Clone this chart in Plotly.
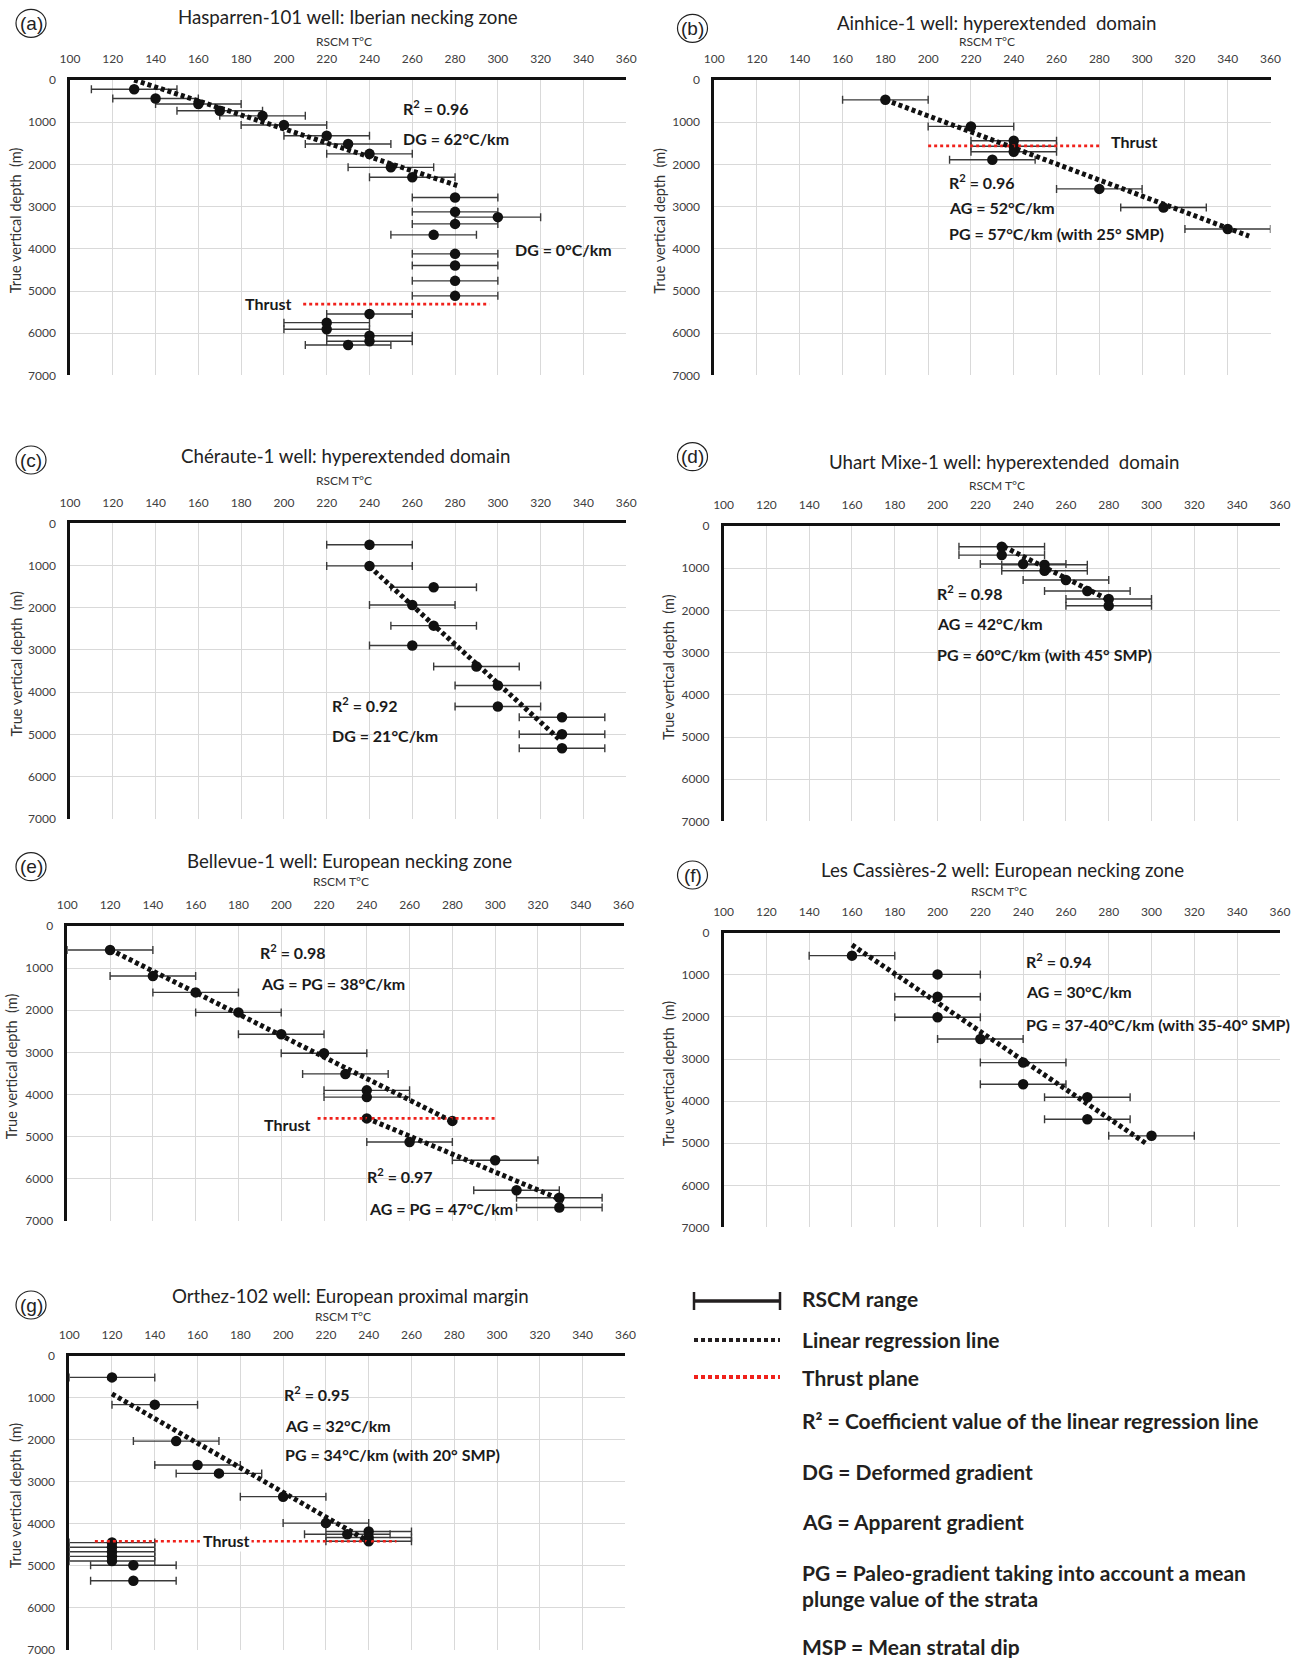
import plotly.graph_objects as go

W, H = 1300, 1658

# ---------------- data (RSCM temperature °C, true vertical depth m) ----------------
# (a) Hasparren-101
a_temp = [130, 140, 160, 170, 190, 200, 220, 230, 240, 250, 260, 280, 280, 300, 280, 270, 280, 280, 280, 280,
          240, 220, 220, 240, 240, 230]
a_depth = [220, 440, 570, 730, 850, 1065, 1320, 1515, 1750, 2070, 2305, 2785, 3125, 3250, 3410, 3670, 4120, 4395,
           4760, 5115, 5545, 5750, 5905, 6060, 6190, 6280]
a_err = [20] * 26
a_reg_temp = [130, 281]
a_reg_depth = [0, 2500]
a_thrust_temp = [209, 296]
a_thrust_depth = [5310, 5310]

# (b) Ainhice-1
b_temp = [180, 220, 240, 240, 240, 230, 280, 310, 340]
b_depth = [470, 1100, 1440, 1570, 1700, 1890, 2580, 3020, 3530]
b_err = [20] * 9
b_reg_temp = [180, 350]
b_reg_depth = [470, 3700]
b_thrust_temp = [200, 280]
b_thrust_depth = [1560, 1560]

# (c) Chéraute-1
c_temp = [240, 240, 270, 260, 270, 260, 290, 300, 300, 330, 330, 330]
c_depth = [510, 1010, 1515, 1935, 2425, 2895, 3395, 3845, 4340, 4595, 5000, 5330]
c_err = [20] * 12
c_reg_temp = [240, 329]
c_reg_depth = [1025, 5130]

# (d) Uhart Mixe-1
d_temp = [230, 230, 240, 250, 250, 260, 270, 280, 280]
d_depth = [490, 690, 900, 920, 1060, 1280, 1540, 1730, 1890]
d_err = [20] * 9
d_reg_temp = [231, 280]
d_reg_depth = [490, 1750]

# (e) Bellevue-1
e_temp = [120, 140, 160, 180, 200, 220, 230, 240, 240, 280, 240, 260, 300, 310, 330, 330]
e_depth = [570, 1185, 1575, 2050, 2570, 3020, 3510, 3900, 4060, 4625, 4565, 5125, 5560, 6270, 6450, 6680]
e_err = [20, 20, 20, 20, 20, 20, 20, 20, 20, 0, 0, 20, 20, 20, 20, 20]
e_reg1_temp = [120, 280]
e_reg1_depth = [560, 4640]
e_reg2_temp = [240, 332]
e_reg2_depth = [4560, 6520]
e_thrust_temp = [217, 301]
e_thrust_depth = [4565, 4565]

# (f) Les Cassières-2
f_temp = [160, 200, 200, 200, 220, 240, 240, 270, 270, 300]
f_depth = [545, 990, 1520, 2010, 2525, 3085, 3600, 3910, 4430, 4825]
f_err = [20] * 10
f_reg_temp = [160, 298]
f_reg_depth = [290, 5025]

# (g) Orthez-102
g_temp = [120, 140, 150, 160, 170, 200, 220, 230, 240, 240, 240, 120, 120, 120, 120, 120, 130, 130]
g_depth = [510, 1160, 2030, 2600, 2800, 3355, 3985, 4250, 4185, 4330, 4420, 4450, 4560, 4670, 4780, 4890,
           4990, 5360]
g_err = [20] * 18
g_reg_temp = [120, 241]
g_reg_depth = [905, 4455]
g_thrust_temp = [112, 253]
g_thrust_depth = [4420, 4420]

x_ticks = list(range(100, 361, 20))
y_ticks = list(range(0, 7001, 1000))

titles = {
    'a': "Hasparren-101 well: Iberian necking zone",
    'b': "Ainhice-1 well: hyperextended  domain",
    'c': "Chéraute-1 well: hyperextended domain",
    'd': "Uhart Mixe-1 well: hyperextended  domain",
    'e': "Bellevue-1 well: European necking zone",
    'f': "Les Cassières-2 well: European necking zone",
    'g': "Orthez-102 well: European proximal margin",
}

# ---------------- layout geometry (pixels) ----------------
panels = [
    dict(key='a', box=(70, 626.2, 80, 375.4), title=(348, 17.3), rscm=(344, 41.7), lab=(31, 23.3), ytit=15.6,
         temp=a_temp, depth=a_depth, err=a_err,
         regs=[(a_reg_temp, a_reg_depth)], thrusts=[(a_thrust_temp, a_thrust_depth)],
         notes=[("R<sup>2</sup> = 0.96", 254.5, 650, 'left'), ("DG = 62°C/km", 254.5, 1380, 'left'),
                ("DG = 0°C/km", 307, 4025, 'left'), ("Thrust", 192.7, 5290, 'center')]),
    dict(key='b', box=(714.2, 1270.5, 80, 375.4), title=(997, 22.7), rscm=(987, 41.7), lab=(692.5, 28.3), ytit=660,
         temp=b_temp, depth=b_depth, err=b_err,
         regs=[(b_reg_temp, b_reg_depth)], thrusts=[(b_thrust_temp, b_thrust_depth)],
         notes=[("R<sup>2</sup> = 0.96", 209, 2405, 'left'), ("AG = 52°C/km", 209, 3015, 'left'),
                ("PG = 57°C/km (with 25° SMP)", 209, 3630, 'left'), ("Thrust", 284.4, 1460, 'left')]),
    dict(key='c', box=(70, 626.2, 523.3, 818.7), title=(346, 455.7), rscm=(344, 481), lab=(31, 460), ytit=15.6,
         temp=c_temp, depth=c_depth, err=c_err,
         regs=[(c_reg_temp, c_reg_depth)], thrusts=[],
         notes=[("R<sup>2</sup> = 0.92", 221.5, 4290, 'left'), ("DG = 21°C/km", 221.5, 5030, 'left')]),
    dict(key='d', box=(723.6, 1279.9, 526, 821.4), title=(1003.6, 461.7), rscm=(997, 485.7), lab=(692.5, 456.7),
         ytit=668.3, temp=d_temp, depth=d_depth, err=d_err,
         regs=[(d_reg_temp, d_reg_depth)], thrusts=[],
         notes=[("R<sup>2</sup> = 0.98", 199, 1580, 'left'), ("AG = 42°C/km", 199, 2320, 'left'),
                ("PG = 60°C/km (with 45° SMP)", 199, 3040, 'left')]),
    dict(key='e', box=(67.3, 623.5, 926, 1221), title=(349, 861), rscm=(341.5, 881.7), lab=(31, 866.7), ytit=11.7,
         temp=e_temp, depth=e_depth, err=e_err,
         regs=[(e_reg1_temp, e_reg1_depth), (e_reg2_temp, e_reg2_depth)],
         thrusts=[(e_thrust_temp, e_thrust_depth)],
         notes=[("R<sup>2</sup> = 0.98", 189, 610, 'left'), ("AG = PG = 38°C/km", 189.5, 1360, 'left'),
                ("Thrust", 202.9, 4720, 'center'), ("R<sup>2</sup> = 0.97", 239, 5920, 'left'),
                ("AG = PG = 47°C/km", 240, 6710, 'left')]),
    dict(key='f', box=(723.6, 1279.9, 932.7, 1227.4), title=(1002, 870), rscm=(999, 891), lab=(692.5, 875),
         ytit=668.3, temp=f_temp, depth=f_depth, err=f_err,
         regs=[(f_reg_temp, f_reg_depth)], thrusts=[],
         notes=[("R<sup>2</sup> = 0.94", 240.5, 650, 'left'), ("AG = 30°C/km", 240.5, 1400, 'left'),
                ("PG = 37-40°C/km (with 35-40° SMP)", 240.5, 2170, 'left')]),
    dict(key='g', box=(69.2, 625.4, 1356, 1649.5), title=(350, 1295.7), rscm=(343, 1316.7), lab=(31, 1305),
         ytit=15.6, temp=g_temp, depth=g_depth, err=g_err,
         regs=[(g_reg_temp, g_reg_depth)], thrusts=[(g_thrust_temp, g_thrust_depth)],
         notes=[("R<sup>2</sup> = 0.95", 199.5, 900, 'left'), ("AG = 32°C/km", 200, 1655, 'left'),
                ("PG = 34°C/km (with 20° SMP)", 200, 2360, 'left'), ("Thrust", 173.7, 4405, 'white')]),
]

BASE = "Lato, 'Open Sans', sans-serif"
TICK_FONT = dict(family=BASE, size=12, color='#404040')
NOTE_FONT = dict(family=BASE, size=16, color='#1a1a1a')
LEG_FONT = dict(family=BASE, size=21, color='#231f20')


def px(x):
    return x / W


def py(y):
    return 1 - y / H


fig = go.Figure()
layout = dict(width=W, height=H, margin=dict(l=0, r=0, t=0, b=0, pad=0, autoexpand=False),
              paper_bgcolor='white', plot_bgcolor='white', showlegend=False)
annotations = []
shapes = []

for i, p in enumerate(panels, start=1):
    sfx = '' if i == 1 else str(i)
    xr, yr = 'x' + sfx, 'y' + sfx
    x0, x1, y0, y1 = p['box']
    layout['xaxis' + sfx] = dict(domain=[px(x0), px(x1)], anchor=yr, side='top', range=[100, 360],
                                 tickvals=x_ticks, showgrid=True, gridcolor='#d9d9d9', gridwidth=1,
                                 showline=True, linecolor='#111111', linewidth=2.5, ticks='outside',
                                 ticklen=9, tickcolor='rgba(0,0,0,0)', tickfont=TICK_FONT, zeroline=False,
                                 fixedrange=True, automargin=False)
    layout['yaxis' + sfx] = dict(domain=[py(y1), py(y0)], anchor=xr, range=[7000, 0], tickvals=y_ticks,
                                 showgrid=True, gridcolor='#d9d9d9', gridwidth=1, showline=True,
                                 linecolor='#111111', linewidth=2.5, ticks='outside', ticklen=9,
                                 tickcolor='rgba(0,0,0,0)', tickfont=TICK_FONT, zeroline=False,
                                 fixedrange=True, automargin=False)

    # data points with RSCM range
    fig.add_trace(go.Scatter(x=p['temp'], y=p['depth'], mode='markers', xaxis=xr, yaxis=yr,
                             marker=dict(size=10.5, color='#111111'),
                             error_x=dict(type='data', array=p['err'], visible=True, thickness=1.4, width=4,
                                          color='#3a3a3a'),
                             hoverinfo='skip'))
    for t, d in p['thrusts']:
        fig.add_trace(go.Scatter(x=t, y=d, mode='lines', xaxis=xr, yaxis=yr,
                                 line=dict(color='#f0211b', width=2.6, dash='3px,3px'), hoverinfo='skip'))
    for t, d in p['regs']:
        fig.add_trace(go.Scatter(x=t, y=d, mode='lines', xaxis=xr, yaxis=yr,
                                 line=dict(color='#111111', width=5, dash='4px,3px'), hoverinfo='skip'))

    # panel texts
    tx, ty = p['title']
    annotations.append(dict(text=titles[p['key']], x=px(tx), y=py(ty), xref='paper', yref='paper',
                            showarrow=False, xanchor='center', yanchor='middle',
                            font=dict(family=BASE, size=18.7, color='#222222')))
    rx, ry = p['rscm']
    annotations.append(dict(text="RSCM T°C", x=px(rx), y=py(ry), xref='paper', yref='paper', showarrow=False,
                            xanchor='center', yanchor='middle',
                            font=dict(family=BASE, size=12, color='#333333')))
    annotations.append(dict(text="True vertical depth  (m)", x=px(p['ytit']), y=py((y0 + y1) / 2 - 7),
                            xref='paper', yref='paper', showarrow=False, textangle=-90, xanchor='center',
                            yanchor='middle',
                            font=dict(family=BASE, size=14.5, color='#333333')))
    lx, ly = p['lab']
    annotations.append(dict(text="(%s)" % p['key'], x=px(lx), y=py(ly), xref='paper', yref='paper',
                            showarrow=False, xanchor='center', yanchor='middle',
                            font=dict(family="'Liberation Sans', Arial, sans-serif", size=19, color='#222222')))
    shapes.append(dict(type='circle', xref='paper', yref='paper', x0=px(lx - 15), x1=px(lx + 15),
                       y0=py(ly + 14), y1=py(ly - 14), line=dict(color='#222222', width=1.2)))

    for text, nx, ny, mode in p['notes']:
        ann = dict(text="<b>%s</b>" % text, x=nx, y=ny, xref=xr, yref=yr, showarrow=False,
                   xanchor='left' if mode == 'left' else 'center', yanchor='middle', font=NOTE_FONT)
        if mode == 'white':
            ann.update(bgcolor='white', borderpad=1)
        annotations.append(ann)

# ---------------- key ----------------
kx0, kx1 = 694, 780
shapes.append(dict(type='line', xref='paper', yref='paper', x0=px(kx0), x1=px(kx1), y0=py(1301), y1=py(1301),
                   line=dict(color='#231f20', width=3.5)))
for kx in (kx0, kx1):
    shapes.append(dict(type='line', xref='paper', yref='paper', x0=px(kx), x1=px(kx), y0=py(1292), y1=py(1310),
                       line=dict(color='#231f20', width=2.5)))
shapes.append(dict(type='line', xref='paper', yref='paper', x0=px(kx0), x1=px(kx1), y0=py(1340), y1=py(1340),
                   line=dict(color='#231f20', width=4, dash='4px,3px')))
shapes.append(dict(type='line', xref='paper', yref='paper', x0=px(kx0), x1=px(kx1), y0=py(1377), y1=py(1377),
                   line=dict(color='#f0211b', width=4, dash='4px,3px')))

key_texts = [
    ("RSCM range", 1298),
    ("Linear regression line", 1339),
    ("Thrust plane", 1377),
    ("R² = Coefficient value of the linear regression line", 1420),
    ("DG = Deformed gradient", 1471),
    ("AG = Apparent gradient", 1521),
    ("PG = Paleo-gradient taking into account a mean", 1572),
    ("plunge value of the strata", 1598),
    ("MSP = Mean stratal dip", 1646),
]
for text, ky in key_texts:
    annotations.append(dict(text="<b>%s</b>" % text, x=px(800), y=py(ky), xref='paper', yref='paper',
                            showarrow=False, xanchor='left', yanchor='middle', font=LEG_FONT))

layout['annotations'] = annotations
layout['shapes'] = shapes
fig.update_layout(**layout)
fig.write_html("out.html", config={'displayModeBar': False},
               post_script="document.body.style.margin='0px';document.body.style.padding='0px';"
                           "document.documentElement.style.overflow='hidden';")
